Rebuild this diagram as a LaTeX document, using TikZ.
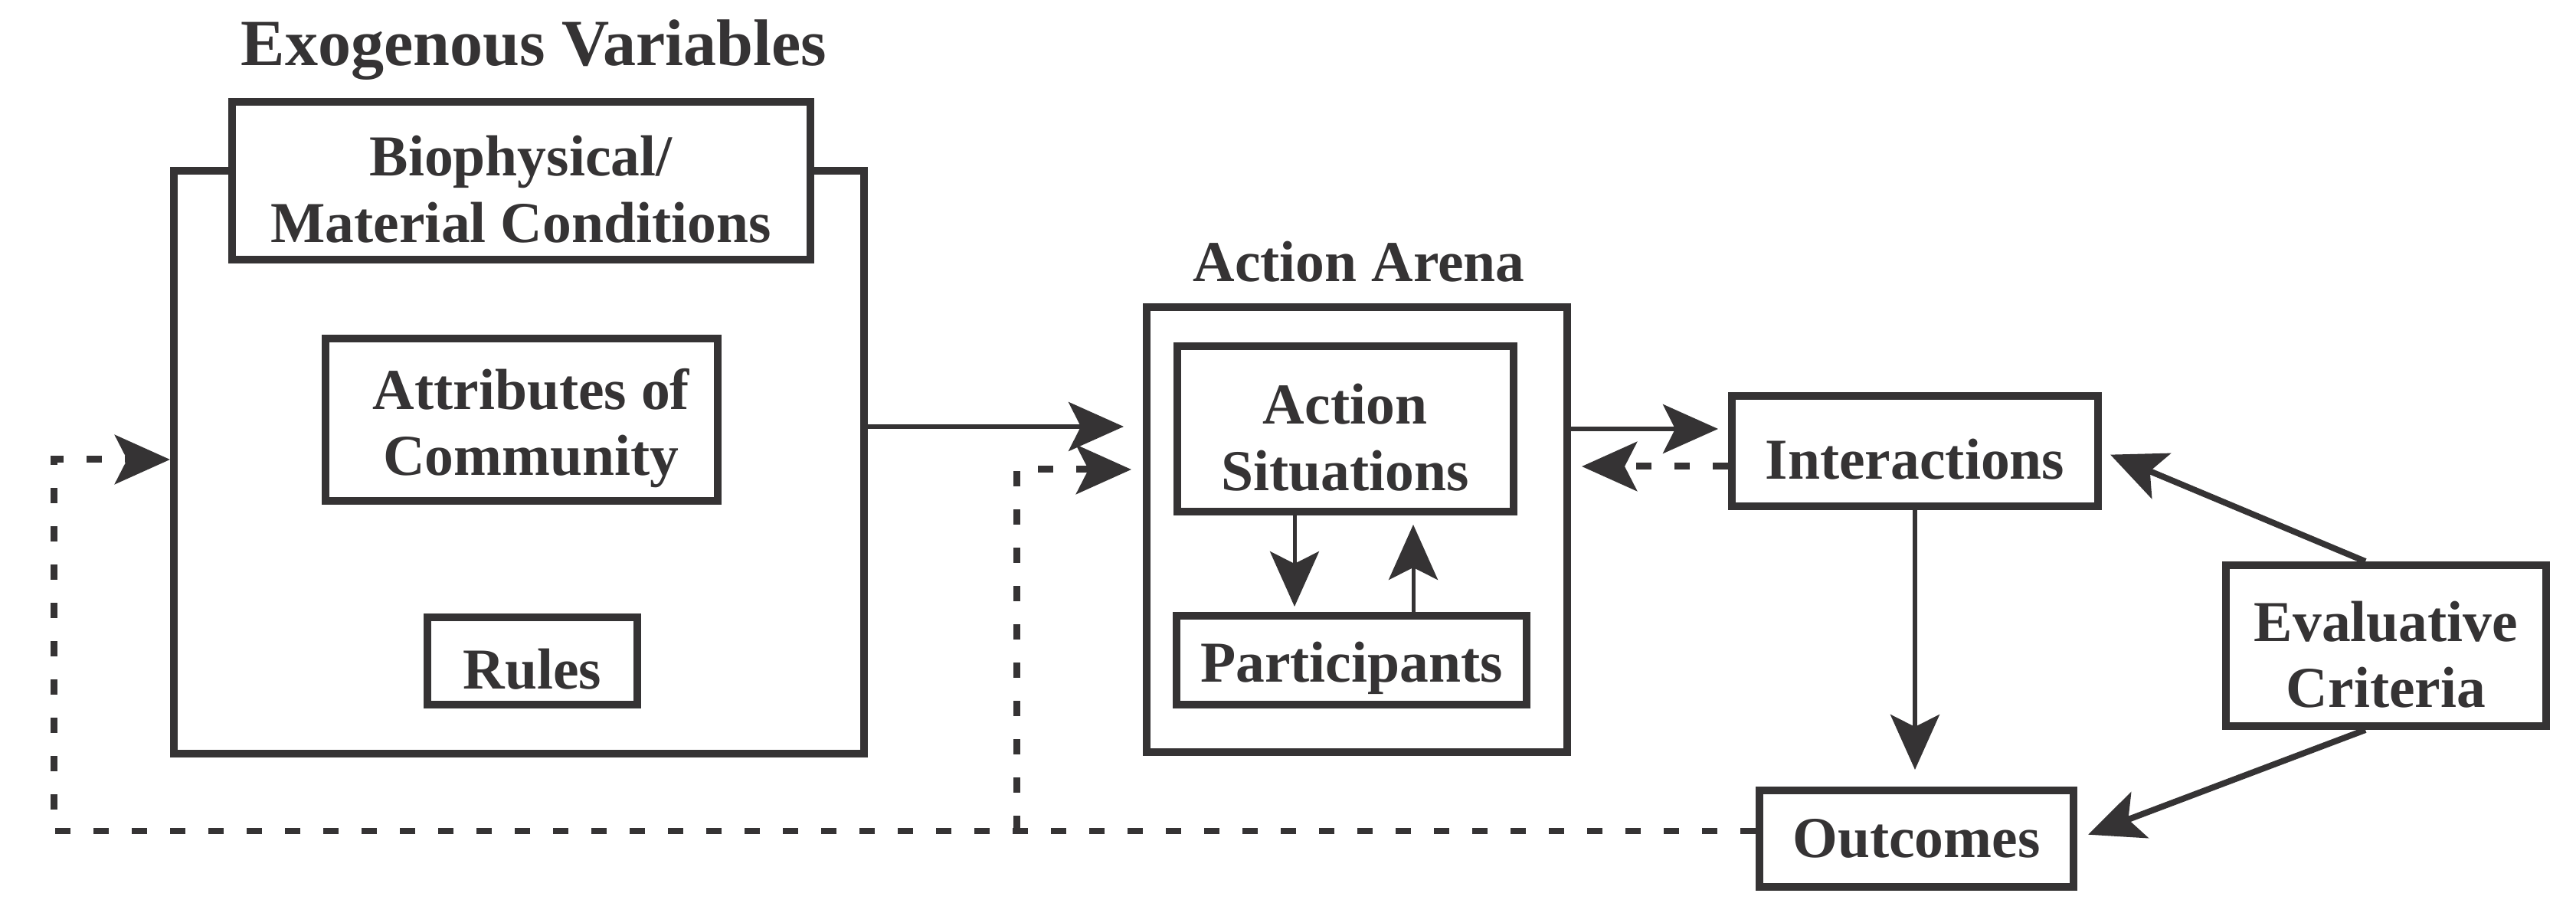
\documentclass[tikz,border=0pt]{standalone}
\usepackage{fontspec}
\setmainfont{Liberation Serif}
\usetikzlibrary{arrows.meta}

\definecolor{ink}{HTML}{353334}

\tikzset{
  box/.style={draw=ink, line width=0.1cm, fill=white, align=center, inner sep=0pt,
    text=ink, font=\fontsize{21.5}{24.6}\selectfont\bfseries},
  oneline/.style={box, text height=21pt},
  twoline/.style={box, text height=46pt},
  title/.style={text=ink, anchor=base, font=\fontsize{24.5}{28}\selectfont\bfseries},
  arr/.style={draw=ink, line width=0.06cm, -{Stealth[length=0.72cm, width=0.64cm, inset=0.16cm]}},
  fb/.style={arr, line width=0.09cm, dash pattern=on 0.2cm off 0.3cm},
}

\begin{document}
\begin{tikzpicture}
\useasboundingbox (0,0) rectangle (33.63,-11.79);

% Exogenous variables
\node[box, minimum width=9.01cm, minimum height=7.61cm] (exo) at (6.775,-6.035) {};
\node[title] (exotitle) at (6.97,-0.86) {Exogenous Variables};
\node[twoline, minimum width=7.55cm, minimum height=2.06cm] (bio) at (6.80,-2.36) {Biophysical/\\Material Conditions};
\node[twoline, minimum width=5.12cm, minimum height=2.12cm] (attr) at (6.81,-5.48) {\hspace{0.25cm}Attributes of\\\hspace{0.25cm}Community};
\node[oneline, minimum width=2.74cm, minimum height=1.14cm] (rules) at (6.95,-8.63) {Rules};

% Action arena
\node[box, minimum width=5.49cm, minimum height=5.81cm] (arena) at (17.715,-6.915) {};
\node[title, font=\fontsize{21.5}{24.2}\selectfont\bfseries] (arenatitle) at (17.74,-3.68) {Action Arena};
\node[twoline, minimum width=4.39cm, minimum height=2.16cm] (sit) at (17.56,-5.60) {Action\\Situations};
\node[oneline, minimum width=4.57cm, minimum height=1.16cm] (part) at (17.645,-8.62) {Participants};

% Interactions, outcomes, criteria
\node[oneline, minimum width=4.78cm, minimum height=1.44cm] (inter) at (25.00,-5.89) {Interactions};
\node[box, minimum width=4.10cm, minimum height=1.26cm] (out) at (25.02,-10.95) {Outcomes};
\node[twoline, minimum width=4.18cm, minimum height=2.10cm] (eval) at (31.15,-8.43) {Evaluative\\Criteria};

% Arrow ends
\coordinate (arenaIn) at (14.67,-5.57);
\coordinate (interIn) at (22.43,-5.60);
\coordinate (arenaBack) at (20.65,-6.09);
\coordinate (downTop) at ([xshift=-0.66cm]sit.south);
\coordinate (upTop) at ([xshift=0.89cm]sit.south);

% Solid arrows
\draw[arr] (exo.east |- arenaIn) -- (arenaIn);
\draw[arr] (arena.east |- interIn) -- (interIn);
\draw[arr, line width=0.05cm, shorten >=0.07cm] (downTop) -- (downTop |- part.north);
\draw[arr, line width=0.05cm, shorten >=0.12cm] (upTop |- part.north) -- (upTop);
\draw[arr, shorten >=0.22cm] (inter.south) -- (inter.south |- out.north);
\draw[arr, line width=0.08cm, shorten >=0.12cm] ([xshift=-0.27cm]eval.north) -- (inter.east);
\draw[arr, line width=0.08cm, shorten >=0.15cm] ([xshift=-0.27cm]eval.south) -- (out.east);

% Dashed feedback
\coordinate (outW) at ([yshift=0.1cm]out.west);
\coordinate (fbL) at (0.70,-6.00);
\coordinate (fbM) at (13.27,-6.13);
\coordinate (arenaFb) at (14.77,-6.13);
\draw[fb] (inter.west |- arenaBack) -- (arenaBack);
\draw[fb] (outW) -| (fbL) -- (fbL -| exo.west);
\draw[fb] (fbM |- outW) -- (fbM) -- (arenaFb);

\end{tikzpicture}
\end{document}
